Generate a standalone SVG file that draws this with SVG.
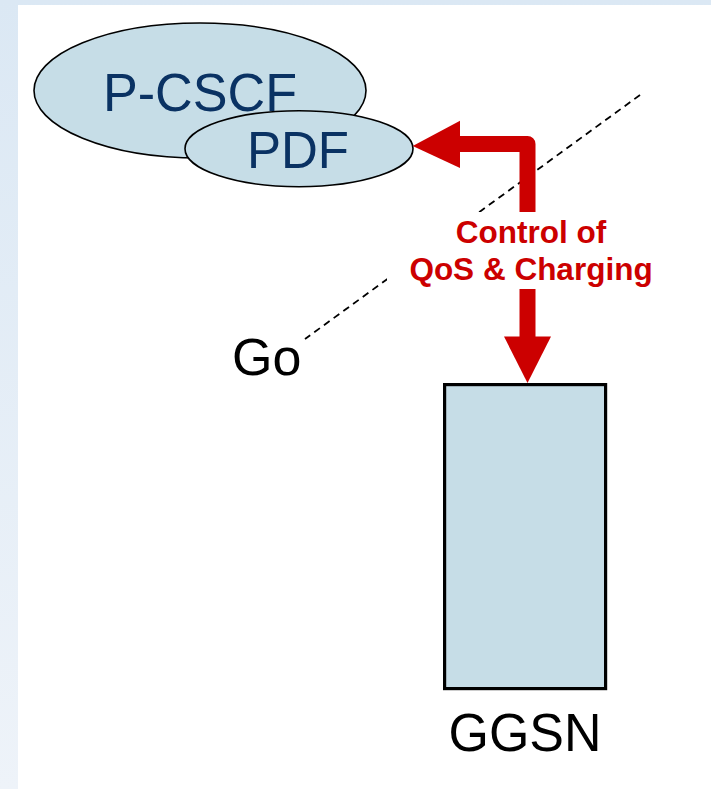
<svg xmlns="http://www.w3.org/2000/svg" width="711" height="789" viewBox="0 0 711 789">
  <defs>
    <linearGradient id="frameGrad" x1="0" y1="0" x2="0" y2="1">
      <stop offset="0" stop-color="#dbe8f4"/>
      <stop offset="1" stop-color="#eef3f9"/>
    </linearGradient>
    <style>
      .node { fill: #c6dde7; stroke: #000; stroke-width: 1.6; }
      .box { fill: #c6dde7; stroke: #000; stroke-width: 3.2; }
      .navy { font-family: "Liberation Sans", Arial, sans-serif; fill: #0a3263; text-anchor: middle; }
      .black { font-family: "Liberation Sans", Arial, sans-serif; fill: #000; }
      .flow { fill: none; stroke: #cc0000; stroke-width: 16; stroke-linejoin: round; }
      .head { fill: #cc0000; }
      .iface { stroke: #000; stroke-width: 1.8; stroke-dasharray: 7 5; fill: none; }
      .note { font-family: "Liberation Sans", Arial, sans-serif; font-weight: bold; fill: #cc0000; text-anchor: middle; font-size: 31.5px; }
    </style>
  </defs>

  <!-- page frame -->
  <rect x="0" y="0" width="711" height="789" fill="url(#frameGrad)"/>
  <rect x="18" y="5" width="693" height="784" fill="#ffffff"/>

  <!-- Go reference point (dashed) -->
  <g id="go-interface">
    <line class="iface" x1="640" y1="95" x2="305" y2="339"/>
    <text class="black" x="232" y="375" font-size="52">Go</text>
  </g>

  <!-- P-CSCF with embedded PDF -->
  <g id="p-cscf">
    <ellipse class="node" cx="200" cy="90.5" rx="166" ry="67.5"/>
    <text class="navy" x="200" y="110.5" font-size="54" textLength="194" lengthAdjust="spacingAndGlyphs">P-CSCF</text>
  </g>
  <g id="pdf">
    <ellipse class="node" cx="299" cy="148.7" rx="114" ry="38"/>
    <text class="navy" x="298" y="168.3" font-size="51">PDF</text>
  </g>

  <!-- GGSN -->
  <g id="ggsn">
    <rect class="box" x="444.6" y="384.6" width="161" height="304"/>
    <text class="black" x="525" y="751" font-size="54" text-anchor="middle" textLength="153" lengthAdjust="spacingAndGlyphs">GGSN</text>
  </g>

  <!-- QoS / charging control flow between PDF and GGSN -->
  <g id="connectors">
    <polyline class="flow" points="527.5,212 527.5,144 458,144"/>
    <polygon class="head" points="412.7,146 460,120.7 460,168"/>
    <line class="flow" x1="527.5" y1="289" x2="527.5" y2="338"/>
    <polygon class="head" points="504,336.5 551,336.5 527.5,383"/>
    <rect x="387" y="212" width="288" height="77" fill="#ffffff"/>
    <text class="note" x="531" y="242.5">Control of</text>
    <text class="note" x="531" y="280">QoS &amp; Charging</text>
  </g>
</svg>
